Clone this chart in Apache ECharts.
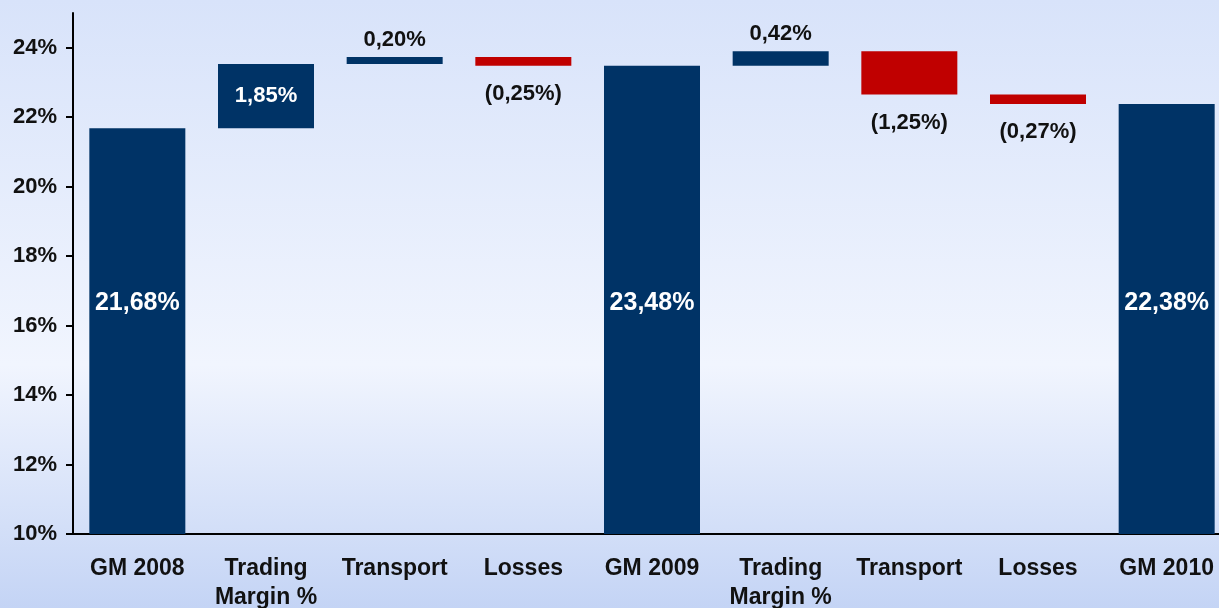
<!DOCTYPE html>
<html lang="en">
<head>
    <meta charset="UTF-8">
    <title>Gross Margin Bridge</title>
    <script src="https://cdn.jsdelivr.net/npm/echarts@6.0.0/dist/echarts.min.js"></script>
    <style>
        html, body { margin: 0; padding: 0; }
    </style>
</head>
<body>
    <div id="main" style="width: 1219px; height: 608px;"></div>

    <script type="text/javascript">
        const categories = ['GM 2008', 'Trading\nMargin %', 'Transport', 'Losses', 'GM 2009', 'Trading\nMargin %', 'Transport', 'Losses', 'GM 2010'];
        const totals = [21.68, null, null, null, 23.48, null, null, null, 22.38];
        const changes = [null, 1.85, 0.20, -0.25, null, 0.42, -1.25, -0.27, null];
        const yTicks = [10, 12, 14, 16, 18, 20, 22, 24];

        const font = 'Liberation Sans, Arial, sans-serif';
        const navy = '#003366';
        const red = '#c00000';

        function fmt(v) {
            return v.toFixed(2).replace('.', ',') + '%';
        }

        // running level for the waterfall
        let level = 0;
        let baseData = [], totalData = [], upData = [], downData = [];
        categories.forEach((c, i) => {
            if (totals[i] != null) {
                level = totals[i];
                baseData.push(0);
                totalData.push(totals[i]);
                upData.push('-');
                downData.push('-');
            } else if (changes[i] >= 0) {
                baseData.push(level);
                level += changes[i];
                totalData.push('-');
                upData.push(changes[i]);
                downData.push('-');
            } else {
                level += changes[i];
                baseData.push(level);
                totalData.push('-');
                upData.push('-');
                downData.push(-changes[i]);
            }
        });

        let upItems = upData.map(v => {
            if (v === '-') return v;
            if (v >= 1) {
                return { value: v, label: { position: 'inside', color: '#fff' } };
            }
            return { value: v };
        });

        let options = {
            backgroundColor: {
                type: 'linear', x: 0, y: 0, x2: 0, y2: 1,
                colorStops: [
                    { offset: 0, color: '#d8e3fa' },
                    { offset: 0.6, color: '#f1f5fe' },
                    { offset: 1, color: '#c4d4f5' }
                ]
            },
            animation: false,
            // plot runs a bit past the right edge, like the original slide crop
            grid: { left: 73, right: -12, top: 13, bottom: 74, outerBoundsMode: 'none' },
            xAxis: {
                type: 'category',
                data: categories,
                axisLine: { lineStyle: { color: '#000', width: 2 } },
                axisTick: { length: 7, lineStyle: { color: '#000', width: 2 } },
                axisLabel: {
                    interval: 0, margin: 20, lineHeight: 29,
                    fontFamily: font, fontSize: 23, fontWeight: 'bold', color: '#111'
                }
            },
            yAxis: {
                type: 'value',
                min: 10, max: 25, interval: 2,
                splitLine: { show: false },
                axisLine: { show: true, lineStyle: { color: '#000', width: 2 } },
                axisTick: { show: true, length: 7, customValues: yTicks, lineStyle: { color: '#000', width: 2 } },
                axisLabel: {
                    customValues: yTicks, margin: 16,
                    formatter: v => v + '%',
                    fontFamily: font, fontSize: 22, fontWeight: 'bold', color: '#111'
                }
            },
            series: [
                {
                    name: 'base', type: 'bar', stack: 'w', barWidth: 96,
                    itemStyle: { color: 'transparent' },
                    emphasis: { disabled: true },
                    data: baseData
                },
                {
                    name: 'total', type: 'bar', stack: 'w', barWidth: 96,
                    itemStyle: { color: navy },
                    label: {
                        show: true, position: 'insideBottom', distance: 218, color: '#fff',
                        fontFamily: font, fontSize: 25, fontWeight: 'bold',
                        formatter: p => fmt(p.value)
                    },
                    data: totalData
                },
                {
                    name: 'up', type: 'bar', stack: 'w', barWidth: 96,
                    itemStyle: { color: navy },
                    label: {
                        show: true, position: 'top', distance: 6, color: '#111',
                        fontFamily: font, fontSize: 22, fontWeight: 'bold',
                        formatter: p => fmt(p.value)
                    },
                    data: upItems
                },
                {
                    name: 'down', type: 'bar', stack: 'w', barWidth: 96,
                    itemStyle: { color: red },
                    label: {
                        show: true, position: 'bottom', distance: 17, color: '#111',
                        fontFamily: font, fontSize: 22, fontWeight: 'bold',
                        formatter: p => '(' + fmt(p.value) + ')'
                    },
                    data: downData
                }
            ]
        };

        let myChart = echarts.init(document.getElementById('main'));
        myChart.setOption(options);
    </script>
</body>
</html>
